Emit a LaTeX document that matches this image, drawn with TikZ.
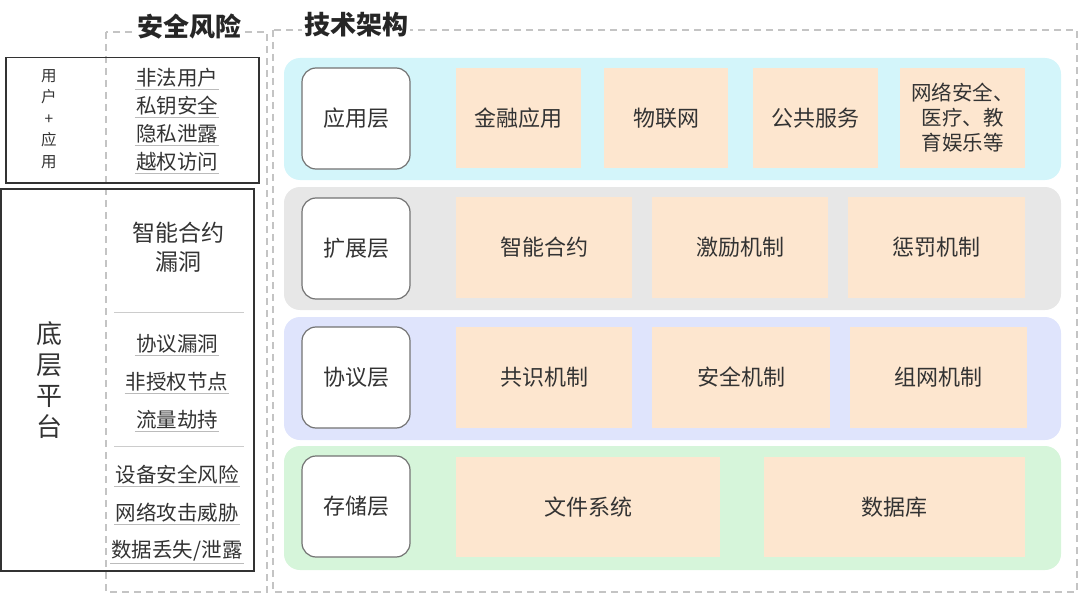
\documentclass[tikz,border=0pt]{standalone}
\usepackage{fontspec}
\setmainfont{Noto Sans CJK SC}
\definecolor{txt}{HTML}{333333}
\definecolor{dashc}{HTML}{C4C4C4}
\definecolor{cyanL}{HTML}{D3F5FA}
\definecolor{grayL}{HTML}{E7E7E7}
\definecolor{lavL}{HTML}{DFE4FC}
\definecolor{greenL}{HTML}{D6F5DA}
\definecolor{orangeL}{HTML}{FDE6CF}
\definecolor{uline}{HTML}{BBBBBB}
\tikzset{
  dbox/.style={draw=dashc, line width=1.5pt, dash pattern=on 7pt off 5pt},
  ttl/.style={font=\fontsize{26}{30}\selectfont\bfseries, text=black!85, fill=white, inner xsep=2pt, inner ysep=1pt},
  sbox/.style={draw=black!80, line width=1.5pt},
  risk/.style={font=\fontsize{20.5}{24}\selectfont, text=txt, inner xsep=1pt, inner ysep=1.5pt},
  layer/.style={rounded corners=16pt},
  lab/.style={draw=black!55, line width=1.2pt, fill=white, rounded corners=14pt, font=\fontsize{22}{26}\selectfont, text=txt},
  obox/.style={fill=orangeL, font=\fontsize{22}{26}\selectfont, text=txt, align=center},
  ul/.style={draw=uline, line width=1pt},
  sep/.style={draw=black!20, line width=1pt}
}
\begin{document}
\begin{tikzpicture}[x=1pt,y=-1pt]
\useasboundingbox (0,0) rectangle (1080,594);
% dashed outer boxes
\draw[dbox] (106,32) rectangle (267,592);
\draw[dbox] (273,30) rectangle (1077,592);
\node[ttl] (t1) at (189,27) {安全风险};
\node[ttl] (t2) at (356,25) {技术架构};
% solid boxes
\node[sbox, minimum width=253pt, minimum height=125pt, anchor=north west] (ua) at (5,57) {};
\node[sbox, minimum width=253pt, minimum height=382pt, anchor=north west] (dp) at (0,188) {};
\node[font=\fontsize{15.5}{21.5}\selectfont, text=txt, align=center] (ual) at (49,119) {用\\户\\+\\应\\用};
\node[font=\fontsize{26}{31}\selectfont, text=txt, align=center] (dpl) at (49,380) {底\\层\\平\\台};
% risk texts
\foreach \n/\y/\t in {r1/78/非法用户, r2/106/私钥安全, r3/134/隐私泄露, r4/162/越权访问,
                     r5/344/协议漏洞, r6/382/非授权节点, r7/420/流量劫持,
                     r8/475/设备安全风险, r9/513/网络攻击威胁, r10/551/{数据丢失/泄露}}{
  \node[risk] (\n) at (177,\y) {\t};
  \draw[ul] (\n.south west) -- (\n.south east);
}
\node[font=\fontsize{23}{29}\selectfont, text=txt, align=center] (sc) at (178,247) {智能合约\\漏洞};
\coordinate (s1a) at (114,312); \coordinate (s1b) at (244,312);
\coordinate (s2a) at (114,446); \coordinate (s2b) at (244,446);
\draw[sep] (s1a) -- (s1b);
\draw[sep] (s2a) -- (s2b);
% layers
\fill[layer, cyanL] (284,58) rectangle (1061,180);
\fill[layer, grayL] (284,187) rectangle (1061,310);
\fill[layer, lavL] (284,317) rectangle (1061,440);
\fill[layer, greenL] (284,446) rectangle (1061,570);
% layer labels
\node[lab, minimum width=108pt, minimum height=101pt] (L1) at (356,118.5) {应用层};
\node[lab, minimum width=108pt, minimum height=101pt] (L2) at (356,248.5) {扩展层};
\node[lab, minimum width=108pt, minimum height=101pt] (L3) at (356,377.5) {协议层};
\node[lab, minimum width=108pt, minimum height=101pt] (L4) at (356,506.5) {存储层};
% orange boxes layer 1
\node[obox, minimum width=125pt, minimum height=100pt] (a1) at (518.5,118) {金融应用};
\node[obox, minimum width=124pt, minimum height=100pt] (a2) at (666,118) {物联网};
\node[obox, minimum width=125pt, minimum height=100pt] (a3) at (815.5,118) {公共服务};
\node[obox, minimum width=125pt, minimum height=100pt, font=\fontsize{20.5}{25}\selectfont] (a4) at (962.5,118) {网络安全、\\医疗、教\\育娱乐等};
% layer 2
\node[obox, minimum width=176pt, minimum height=101pt] (b1) at (544,247.5) {智能合约};
\node[obox, minimum width=176pt, minimum height=101pt] (b2) at (740,247.5) {激励机制};
\node[obox, minimum width=177pt, minimum height=101pt] (b3) at (936.5,247.5) {惩罚机制};
% layer 3
\node[obox, minimum width=176pt, minimum height=101pt] (c1) at (544,377.5) {共识机制};
\node[obox, minimum width=178pt, minimum height=101pt] (c2) at (741,377.5) {安全机制};
\node[obox, minimum width=177pt, minimum height=101pt] (c3) at (938.5,377.5) {组网机制};
% layer 4
\node[obox, minimum width=264pt, minimum height=100pt] (d1) at (588,507) {文件系统};
\node[obox, minimum width=261pt, minimum height=100pt] (d2) at (894.5,507) {数据库};
\end{tikzpicture}
\end{document}
